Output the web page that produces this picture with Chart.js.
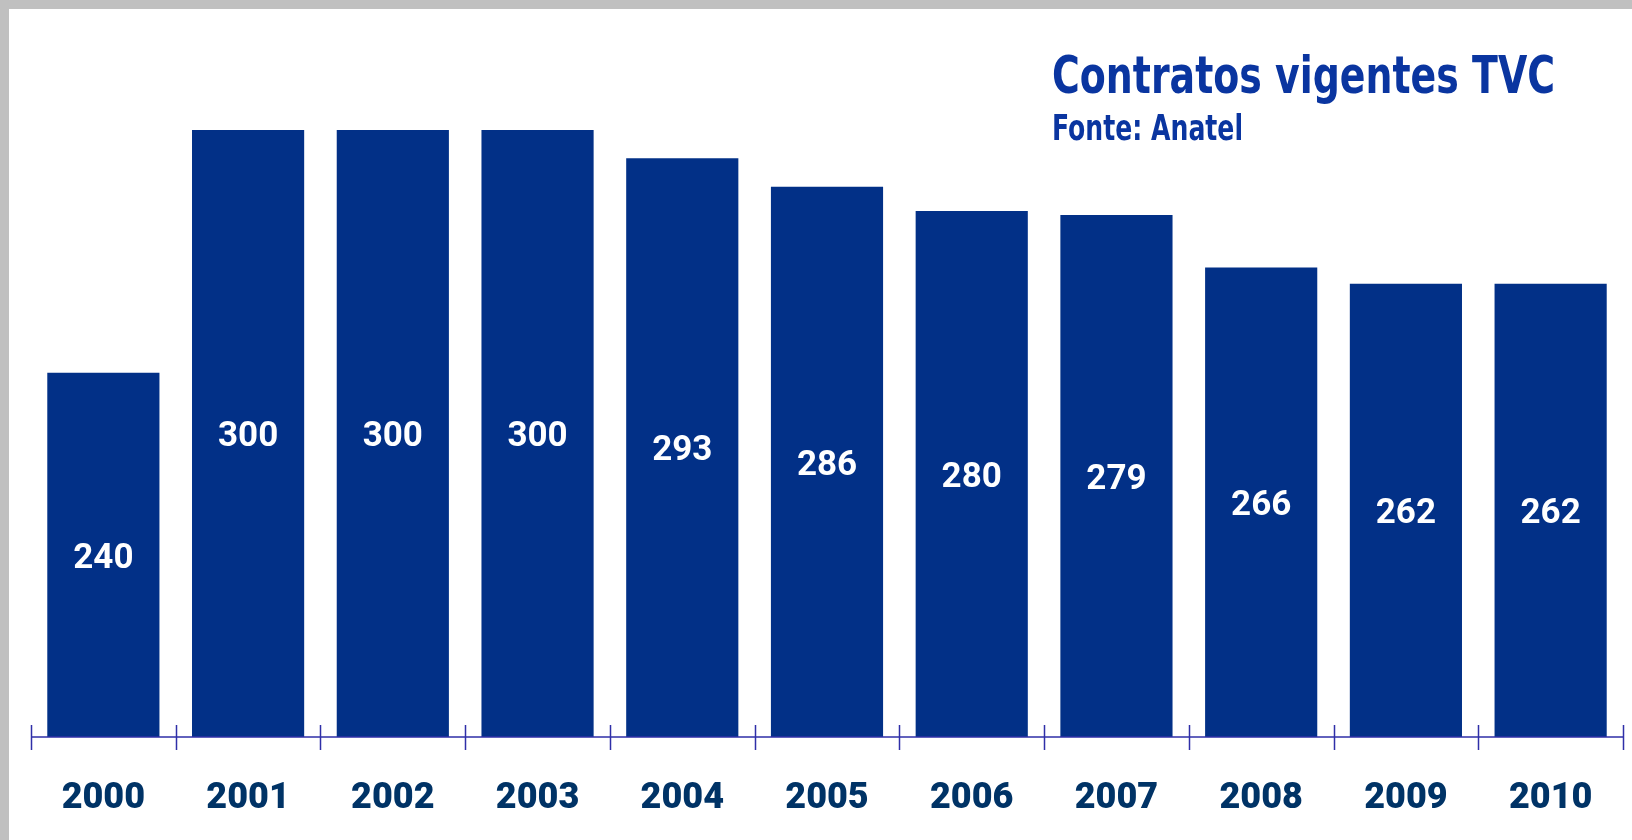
<!DOCTYPE html>
<html>
<head>
<meta charset="utf-8">
<script src="https://cdn.jsdelivr.net/npm/chart.js@4/dist/chart.umd.min.js"></script>
<style>
    html, body { margin: 0; padding: 0; background: #c0c0c0; }
    .frame { position: absolute; left: 9px; top: 9px; width: 1623px; height: 831px; background: #ffffff; }
</style>
</head>
<body>
<div class="frame"><canvas id="chart" width="1623" height="831"></canvas></div>
<script>
const yearsList = ['2000', '2001', '2002', '2003', '2004', '2005', '2006', '2007', '2008', '2009', '2010'];
const contractsList = [240, 300, 300, 300, 293, 286, 280, 279, 266, 262, 262];
const titleText = 'Contratos vigentes TVC';
const sourceText = 'Fonte: Anatel';

const barColor = '#023087';
const titleColor = '#0a35a0';

// value labels in the middle of the visible part of each bar
const valueLabels = {
    id: 'valueLabels',
    afterDatasetsDraw(chart) {
        const ctx = chart.ctx;
        const meta = chart.getDatasetMeta(0);
        const bottom = chart.chartArea.bottom;
        ctx.save();
        ctx.fillStyle = '#ffffff';
        ctx.font = 'bold 35px Roboto, "Liberation Sans", sans-serif';
        ctx.textAlign = 'center';
        ctx.textBaseline = 'middle';
        meta.data.forEach((bar, i) => {
            ctx.fillText(String(contractsList[i]), bar.x, (bar.y + Math.min(bar.base, bottom)) / 2 + 4);
        });
        ctx.restore();
    }
};

// axis line with ticks crossing it at category borders
const crossTicks = {
    id: 'crossTicks',
    afterDatasetsDraw(chart) {
        const ctx = chart.ctx;
        const x = chart.scales.x;
        const y = chart.chartArea.bottom;
        ctx.save();
        ctx.strokeStyle = '#2f2fa8';
        ctx.lineWidth = 1.5;
        ctx.beginPath();
        ctx.moveTo(x.getPixelForValue(-0.5), y);
        ctx.lineTo(x.getPixelForValue(yearsList.length - 0.5), y);
        for (let i = 0; i <= yearsList.length; i++) {
            const px = Math.round(x.getPixelForValue(i - 0.5)) + 0.5;
            ctx.moveTo(px, y - 12);
            ctx.lineTo(px, y + 13);
        }
        ctx.stroke();
        ctx.restore();
    }
};

const titleBlock = {
    id: 'titleBlock',
    afterDraw(chart) {
        const ctx = chart.ctx;
        ctx.save();
        ctx.fillStyle = titleColor;
        ctx.textAlign = 'left';
        ctx.textBaseline = 'alphabetic';
        ctx.font = 'bold 52px "Liberation Sans Narrow", "DejaVu Sans Condensed", Roboto, sans-serif';
        ctx.fillText(titleText, 1043, 84, 503);
        ctx.font = 'bold 36px "Liberation Sans Narrow", "DejaVu Sans Condensed", Roboto, sans-serif';
        ctx.fillText(sourceText, 1043, 131, 191);
        ctx.restore();
    }
};

const chart = new Chart(document.getElementById('chart'), {
    type: 'bar',
    data: {
        labels: yearsList,
        datasets: [{
            data: contractsList,
            backgroundColor: barColor,
            borderWidth: 0,
            barPercentage: 0.775,
            categoryPercentage: 1
        }]
    },
    options: {
        responsive: false,
        animation: false,
        layout: { padding: { left: 22, right: 9, top: 121, bottom: 28 } },
        plugins: {
            legend: { display: false },
            tooltip: { enabled: false }
        },
        scales: {
            x: {
                offset: true,
                border: { display: false },
                grid: { display: false },
                afterFit(scale) { scale.height = 75; },
                ticks: {
                    padding: 32,
                    maxRotation: 0,
                    color: '#003366',
                    font: { family: 'Roboto', weight: '900', size: 36 }
                }
            },
            y: {
                display: false,
                min: 150,
                max: 300
            }
        }
    },
    plugins: [valueLabels, crossTicks, titleBlock]
});
</script>
</body>
</html>
